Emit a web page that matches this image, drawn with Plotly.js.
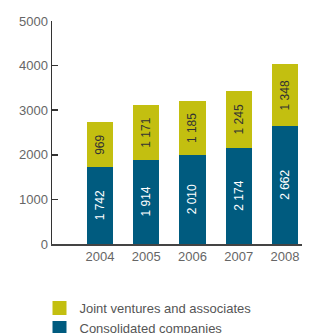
<!DOCTYPE html>
<html><head><meta charset="utf-8">
<script src="https://cdn.plot.ly/plotly-3.0.1.min.js"></script>
<style>html,body{margin:0;padding:0;background:#fff}#chart{width:317px;height:333px}</style>
</head><body><div id="chart"></div>
<script>
const years = [2004, 2005, 2006, 2007, 2008];
const consolidated = [1742, 1914, 2010, 2174, 2662];
const jointVentures = [969, 1171, 1185, 1245, 1348];
const yTicks = [0, 1000, 2000, 3000, 4000, 5000];
const fmt = v => { const s = String(v); return s.length > 3 ? s.slice(0, s.length - 3) + ' ' + s.slice(-3) : s; };

const font = 'Liberation Sans, Arial, Helvetica, sans-serif';
const data = [
  {type: 'bar', name: 'Consolidated companies', x: years, y: consolidated,
   marker: {color: '#005b7f', line: {color: '#005b7f', width: 2}}, width: 0.52,
   text: consolidated.map(fmt), textposition: 'inside', insidetextanchor: 'middle',
   textangle: -90, textfont: {family: font, size: 12, color: '#ffffff'}, constraintext: 'none',
   hoverinfo: 'none'},
  {type: 'bar', name: 'Joint ventures and associates', x: years, y: jointVentures,
   marker: {color: '#c3bf10', line: {color: '#c3bf10', width: 2}}, width: 0.52,
   text: jointVentures.map(fmt), textposition: 'inside', insidetextanchor: 'middle',
   textangle: -90, textfont: {family: font, size: 12, color: '#333333'}, constraintext: 'none',
   hoverinfo: 'none'}
];
const layout = {
  width: 317, height: 333,
  margin: {l: 52, r: 15, t: 21, b: 89},
  barmode: 'stack',
  paper_bgcolor: '#fff', plot_bgcolor: '#fff',
  font: {family: font, size: 13, color: '#666'},
  showlegend: true,
  legend: {x: -0.05, xanchor: 'left', y: 0.12, yref: 'container', yanchor: 'top', traceorder: 'reversed',
           font: {family: font, size: 13, color: '#555'}, tracegroupgap: 0, itemwidth: 30},
  xaxis: {range: [2002.96, 2008.37], tickvals: years, ticktext: years.map(String),
          showgrid: false, zeroline: false, showline: true, linecolor: '#444', linewidth: 1.5,
          ticks: '', tickfont: {family: font, size: 13, color: '#666'}},
  yaxis: {range: [0, 5000], tickvals: yTicks, ticktext: yTicks.map(String),
          showgrid: false, zeroline: false, showline: true, linecolor: '#333', linewidth: 1.5,
          ticks: 'inside', ticklen: 6, tickcolor: '#333', tickwidth: 1.5,
          tickfont: {family: font, size: 13, color: '#666'}}
};
Plotly.newPlot('chart', data, layout, {displayModeBar: false, staticPlot: true});
</script></body></html>
